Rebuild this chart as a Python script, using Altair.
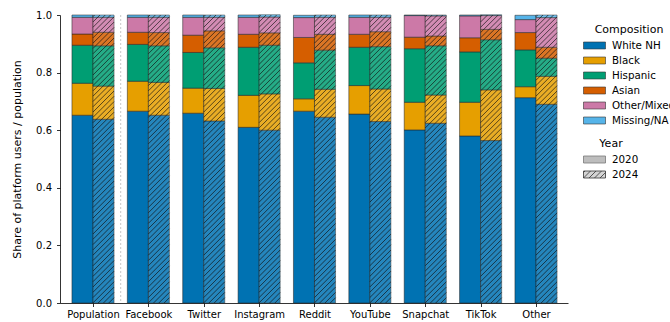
import json
import numpy as np
import pandas as pd
import altair as alt

# ---------------- data ----------------
platforms = ["Population", "Facebook", "Twitter", "Instagram", "Reddit",
             "YouTube", "Snapchat", "TikTok", "Other"]
groups = ["White NH", "Black", "Hispanic", "Asian", "Other/Mixed", "Missing/NA"]
group_colors = ["#0072B2", "#E69F00", "#009E73", "#D55E00", "#CC79A7", "#56B4E9"]
years = ["2020", "2024"]

white_2020 = [0.652, 0.666, 0.659, 0.610, 0.666, 0.656, 0.601, 0.580, 0.713]
black_2020 = [0.111, 0.104, 0.087, 0.111, 0.043, 0.099, 0.096, 0.117, 0.038]
hisp_2020 = [0.132, 0.128, 0.124, 0.167, 0.125, 0.133, 0.186, 0.175, 0.128]
asian_2020 = [0.039, 0.042, 0.060, 0.045, 0.088, 0.045, 0.040, 0.049, 0.060]
other_2020 = [0.058, 0.052, 0.062, 0.059, 0.069, 0.059, 0.075, 0.076, 0.045]
missing_2020 = [0.008, 0.008, 0.008, 0.008, 0.008, 0.008, 0.002, 0.003, 0.015]

white_2024 = [0.638, 0.652, 0.632, 0.600, 0.645, 0.630, 0.624, 0.564, 0.690]
black_2024 = [0.115, 0.114, 0.113, 0.126, 0.097, 0.113, 0.098, 0.176, 0.097]
hisp_2024 = [0.140, 0.127, 0.141, 0.169, 0.136, 0.147, 0.171, 0.174, 0.063]
asian_2024 = [0.047, 0.046, 0.059, 0.043, 0.055, 0.052, 0.034, 0.036, 0.038]
other_2024 = [0.052, 0.053, 0.047, 0.055, 0.059, 0.050, 0.070, 0.048, 0.103]
missing_2024 = [0.008, 0.008, 0.008, 0.008, 0.008, 0.008, 0.003, 0.003, 0.009]

# ---------------- layout constants ----------------
PLOT_W, PLOT_H = 508, 288
X_MIN, X_MAX = -0.596, 8.578
BAR_W = 0.38
HATCH_GAP_PX = 5.3

series = {
    "2020": [white_2020, black_2020, hisp_2020, asian_2020, other_2020, missing_2020],
    "2024": [white_2024, black_2024, hisp_2024, asian_2024, other_2024, missing_2024],
}

rows = []
for yr in years:
    for i, p in enumerate(platforms):
        base = 0.0
        for g, vals in zip(groups, series[yr]):
            v = vals[i]
            x0 = i - BAR_W if yr == "2020" else i
            rows.append({"platform": p, "year": yr, "group": g,
                         "x0": x0, "x1": x0 + BAR_W,
                         "y0": base, "y1": base + v,
                         "op": 1.0 if yr == "2020" else 0.85})
            base += v
bars_df = pd.DataFrame(rows)

# hatch lines (decoration for 2024 bars, 45 degrees in pixel space)
kx = PLOT_W / (X_MAX - X_MIN)
dy = BAR_W * kx / PLOT_H
step = HATCH_GAP_PX / PLOT_H
hrows = []
for i, p in enumerate(platforms):
    for yb in np.arange(-dy, 1.0, step):
        hrows.append({"x0": i, "x1": i + BAR_W, "y0": yb, "y1": yb + dy})
hatch_df = pd.DataFrame(hrows)

RECT = "M-2.2,-0.7L2.2,-0.7L2.2,0.7L-2.2,0.7Z"
HATCH = (RECT + "M-2.2,0.7L-0.8,-0.7M-1.1,0.7L0.3,-0.7"
         "M0,0.7L1.4,-0.7M1.1,0.7L2.2,-0.4M-2.2,-0.4L-1.9,-0.7")

label_expr = json.dumps(platforms) + "[datum.value]"

x_scale = alt.Scale(domain=[X_MIN, X_MAX], nice=False, zero=False)
y_scale = alt.Scale(domain=[0, 1], nice=False)

x_axis = alt.Axis(values=list(range(len(platforms))), labelExpr=label_expr,
                  title=None, tickSize=3.5, labelFontSize=10, labelPadding=3,
                  domainWidth=0.8, tickWidth=0.8)
y_axis = alt.Axis(values=[0, 0.2, 0.4, 0.6, 0.8, 1.0], format=".1f",
                  title="Share of platform users / population",
                  titleFontSize=11, labelFontSize=10, tickSize=3.5,
                  labelPadding=5, titlePadding=13, domainWidth=0.8, tickWidth=0.8)

bars = alt.Chart(bars_df).mark_bar(stroke="#222", strokeWidth=0.7,
                                   strokeOpacity=0.75).encode(
    x=alt.X("x0:Q", scale=x_scale, axis=x_axis),
    x2="x1:Q",
    y=alt.Y("y0:Q", scale=y_scale, axis=y_axis),
    y2="y1:Q",
    color=alt.Color("group:N", scale=alt.Scale(domain=groups, range=group_colors),
                    legend=alt.Legend(title="Composition", symbolType=RECT,
                                      symbolSize=100, symbolOpacity=1,
                                      symbolStrokeColor="#333",
                                      symbolStrokeWidth=0.6, symbolOffset=6,
                                      labelOffset=12, orient="none",
                                      legendX=523, legendY=9)),
    opacity=alt.Opacity("op:Q", scale=None),
)

hatch = alt.Chart(hatch_df).mark_rule(clip=True, color="#111", strokeWidth=0.8,
                                      opacity=0.85).encode(
    x=alt.X("x0:Q", scale=x_scale), x2="x1:Q",
    y=alt.Y("y0:Q", scale=y_scale), y2="y1:Q",
)

sep = alt.Chart(pd.DataFrame({"pos": [0.5]})).mark_rule(
    color="#c8c8c8", strokeDash=[2, 2], strokeWidth=1).encode(
    x=alt.X("pos:Q", scale=x_scale))

year_df = pd.DataFrame({"year": years})
year_leg = alt.Chart(year_df).mark_point(filled=True, opacity=0).encode(
    x=alt.datum(0, scale=x_scale), y=alt.datum(0, scale=y_scale),
    shape=alt.Shape("year:N", scale=alt.Scale(domain=years, range=[RECT, HATCH]),
                    legend=alt.Legend(title="Year", symbolSize=100,
                                      symbolOpacity=1, symbolStrokeWidth=0.8,
                                      symbolOffset=6, labelOffset=12,
                                      orient="none", legendX=523, legendY=123)),
    fill=alt.Fill("year:N", scale=alt.Scale(domain=years,
                                            range=["#bdbdbd", "#d4d4d4"]),
                  title="Year"),
    stroke=alt.Stroke("year:N", scale=alt.Scale(domain=years,
                                                range=["#7a7a7a", "#333333"]),
                      title="Year"),
)

chart = alt.layer(sep, bars, hatch, year_leg).properties(
    width=PLOT_W, height=PLOT_H,
    padding={"left": 60, "top": 15, "right": 102, "bottom": 19},
    autosize=alt.AutoSizeParams(type="none"),
).configure_view(stroke=None).configure_axis(
    grid=False, domainColor="black", tickColor="black", labelColor="black",
    titleColor="black", labelFont="DejaVu Sans", titleFont="DejaVu Sans",
    titleFontWeight="normal",
).configure_legend(
    titleFont="DejaVu Sans", labelFont="DejaVu Sans", titleFontSize=11,
    titleFontWeight="normal", labelFontSize=10.3, titleColor="black",
    labelColor="black", titleAnchor="middle", rowPadding=4, titlePadding=5,
)

chart.save("out.html", embed_options={"renderer": "svg", "actions": False})
